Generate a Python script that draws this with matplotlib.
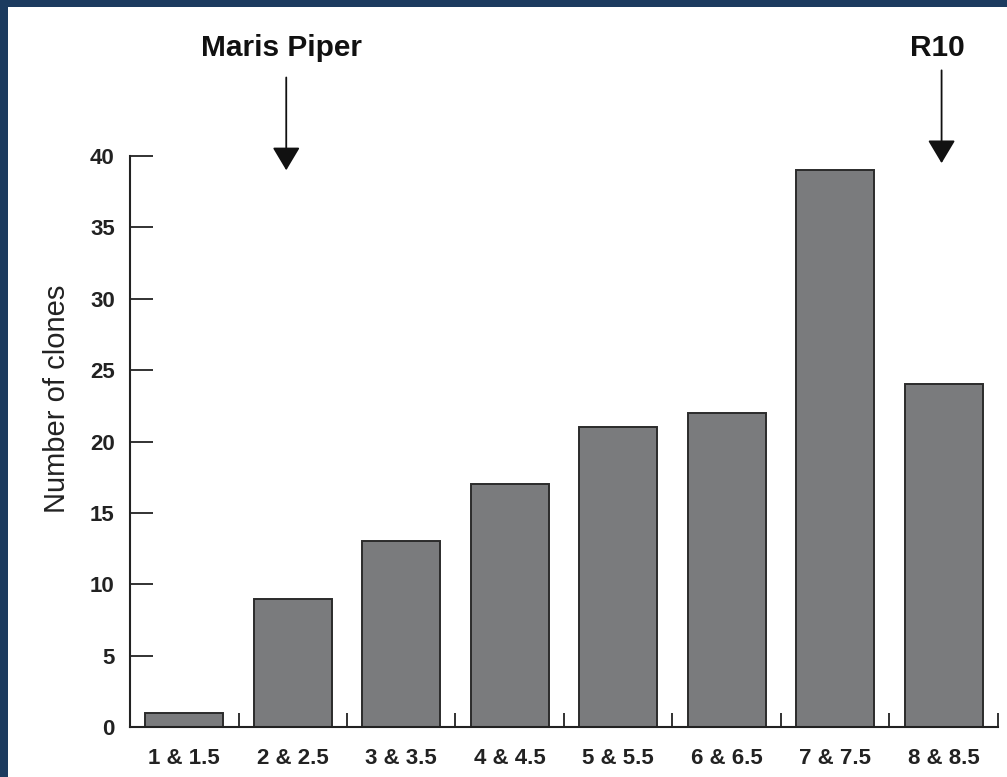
import matplotlib
matplotlib.use("Agg")
import matplotlib.pyplot as plt
from matplotlib.patches import Rectangle
import numpy as np

categories = ["1 & 1.5", "2 & 2.5", "3 & 3.5", "4 & 4.5", "5 & 5.5", "6 & 6.5", "7 & 7.5", "8 & 8.5"]
clones = [1, 9, 13, 17, 21, 22, 39, 24]
markers = ["Maris Piper", "R10"]
marker_x = [1.44, 7.48]
y_ticks = [0, 5, 10, 15, 20, 25, 30, 35, 40]

plt.rcParams['font.family'] = ['Liberation Sans', 'DejaVu Sans']

W, H = 1007, 777
fig = plt.figure(figsize=(W / 100, H / 100), dpi=100, facecolor="#1c3b5f")
bg = Rectangle((8 / W, 0), 1 - 8 / W, 1 - 7 / H, transform=fig.transFigure,
               facecolor="white", edgecolor="none", zorder=-10)
fig.add_artist(bg)

ax = fig.add_axes([130 / W, 1 - 727 / H, (998 - 130) / W, (727 - 156) / H])
ax.set_zorder(5)
ax.patch.set_alpha(0)

n = len(categories)
centers = np.arange(n) + 0.5
ax.bar(centers, clones, width=0.72, color="#7a7b7d", edgecolor="#2b2b2b", linewidth=1.4, zorder=2)

ax.set_xlim(0, n)
ax.set_ylim(0, 40)

for s in ["top", "right"]:
    ax.spines[s].set_visible(False)
for s in ["left", "bottom"]:
    ax.spines[s].set_linewidth(1.5)
    ax.spines[s].set_color("#222222")

ax.set_yticks(y_ticks)
ax.set_yticklabels([str(v) for v in y_ticks], fontsize=16, fontweight="bold")
ax.tick_params(axis="y", direction="in", length=16.5, width=1.3, pad=11, colors="#222222")

ax.set_xticks(np.arange(1, n + 1))
ax.set_xticklabels([""] * n)
ax.tick_params(axis="x", which="major", direction="in", length=10, width=1.3, colors="#222222")
ax.set_xticks(centers, minor=True)
ax.set_xticklabels(categories, minor=True, fontsize=16, fontweight="bold")
ax.tick_params(axis="x", which="minor", length=0, pad=15, colors="#222222")

ax.set_ylabel("Number of clones", fontsize=21, color="#222222")
ax.yaxis.set_label_coords(-0.068, 0.574)

tip_y = [39.0, 39.5]
top_y = [45.5, 46.0]
for name, x, ty, sy in zip(markers, marker_x, tip_y, top_y):
    ax.annotate("", xy=(x, ty), xytext=(x, sy), annotation_clip=False,
                arrowprops=dict(arrowstyle="-|>,head_length=0.72,head_width=0.43",
                                mutation_scale=20, color="#111111", lw=1.3,
                                shrinkA=0, shrinkB=0))
    ax.text(x - 0.04, 47.0, name, ha="center", va="baseline", fontsize=21.5,
            fontweight="bold", color="#111111", clip_on=False)

fig.savefig("out.png", dpi=100, facecolor=fig.get_facecolor())
